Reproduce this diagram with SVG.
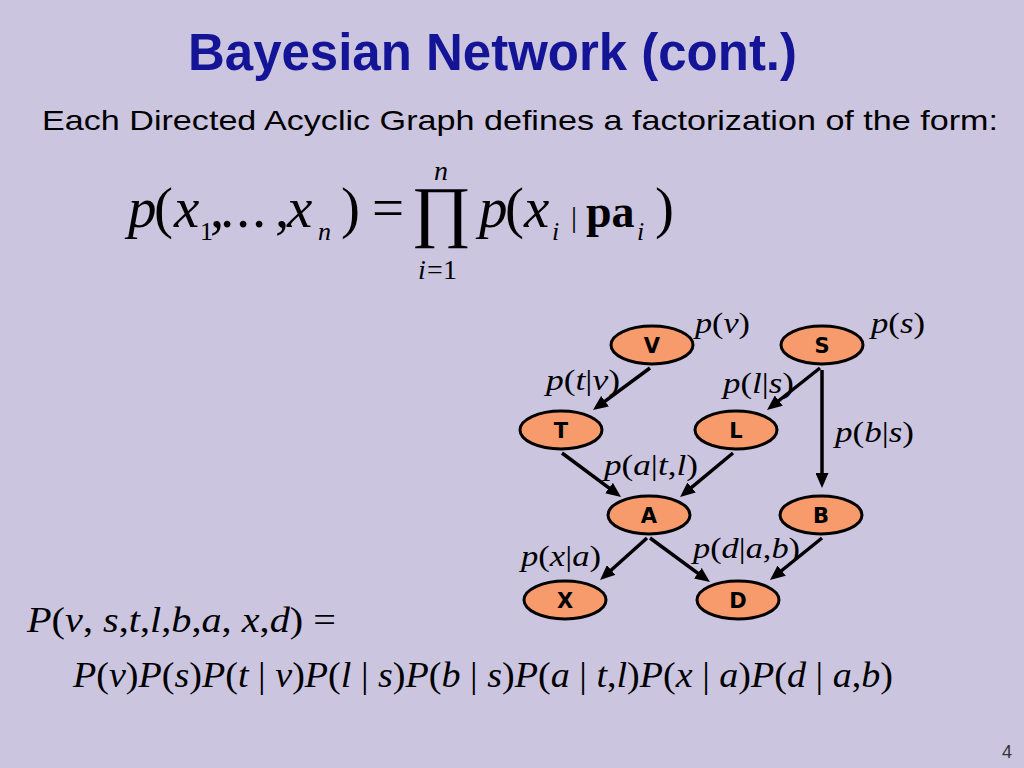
<svg xmlns="http://www.w3.org/2000/svg" width="1024" height="768" viewBox="0 0 1024 768">
<defs>
<style>
.bg{fill:#CCC5E0}
.title{font-family:"Liberation Sans",Arial,sans-serif;font-weight:bold;fill:#141496}
.sub{font-family:"Liberation Sans",Arial,sans-serif;fill:#000}
.m{font-family:"Liberation Serif","Times New Roman",serif;fill:#000}
.i{font-style:italic}
.b{font-weight:bold}
.node ellipse{fill:#F89B6C;stroke:#000;stroke-width:3}
.node text{font-family:"DejaVu Sans",sans-serif;font-weight:bold;font-size:21px;text-anchor:middle;fill:#000}
.edge{stroke:#000;stroke-width:3.5;fill:none;marker-end:url(#arr)}
.lbl{font-family:"Liberation Serif","Times New Roman",serif;font-size:29px;fill:#000}
</style>
<marker id="arr" markerUnits="userSpaceOnUse" markerWidth="15" markerHeight="13" viewBox="0 0 15 13" refX="7" refY="6.5" orient="auto">
<path d="M0,0 L15,6.5 L0,13 z" fill="#000"/>
</marker>
</defs>
<rect class="bg" x="0" y="0" width="1024" height="768"/>

<text class="title" x="188" y="70" font-size="51" textLength="609" lengthAdjust="spacingAndGlyphs">Bayesian Network (cont.)</text>
<text class="sub" x="42" y="130" font-size="28" textLength="956" lengthAdjust="spacingAndGlyphs">Each Directed Acyclic Graph defines a factorization of the form:</text>

<g id="formula-main" class="m">
<text font-size="57" y="227"><tspan class="i" x="128">p</tspan><tspan x="154">(</tspan><tspan class="i" x="174">x</tspan><tspan x="210">,</tspan><tspan x="220">.</tspan><tspan x="236">.</tspan><tspan x="252">.</tspan><tspan x="275">,</tspan><tspan class="i" x="287">x</tspan><tspan x="341">)</tspan><tspan x="372">=</tspan></text>
<text font-size="26" y="240"><tspan x="200">1</tspan><tspan class="i" x="318">n</tspan></text>
<text font-size="68" x="411" y="234" textLength="60" lengthAdjust="spacingAndGlyphs">∏</text>
<text font-size="28" class="i" x="434" y="180">n</text>
<text font-size="28" y="279"><tspan class="i" x="418">i</tspan><tspan x="427">=</tspan><tspan x="443">1</tspan></text>
<text font-size="57" y="227"><tspan class="i" x="479">p</tspan><tspan x="505">(</tspan><tspan class="i" x="524">x</tspan></text>
<text font-size="26" class="i" x="552" y="240">i</text>
<text font-size="30" x="571" y="227">|</text>
<text font-size="46" class="b" x="586" y="227">pa</text>
<text font-size="26" class="i" x="637" y="240">i</text>
<text font-size="57" x="655" y="227">)</text>
</g>

<g id="connectors">
<line class="edge" x1="650" y1="368" x2="599.4" y2="405.3"/>
<line class="edge" x1="820" y1="368" x2="773.3" y2="405"/>
<line class="edge" x1="822" y1="370" x2="822" y2="480"/>
<line class="edge" x1="562" y1="453" x2="614.6" y2="492.2"/>
<line class="edge" x1="733" y1="453" x2="686.2" y2="491.9"/>
<line class="edge" x1="647" y1="538" x2="606" y2="574.7"/>
<line class="edge" x1="650" y1="538" x2="703.5" y2="577.3"/>
<line class="edge" x1="822" y1="538" x2="776.2" y2="575"/>
</g>

<g id="node-V" class="node"><ellipse cx="652" cy="345" rx="41" ry="19"/><text x="652" y="353">V</text></g>
<g id="node-S" class="node"><ellipse cx="822" cy="345" rx="41" ry="19"/><text x="822" y="353">S</text></g>
<g id="node-T" class="node"><ellipse cx="561" cy="430" rx="41" ry="19"/><text x="561" y="438">T</text></g>
<g id="node-L" class="node"><ellipse cx="736" cy="430" rx="41" ry="19"/><text x="736" y="438">L</text></g>
<g id="node-A" class="node"><ellipse cx="649" cy="515" rx="41" ry="19"/><text x="649" y="523">A</text></g>
<g id="node-B" class="node"><ellipse cx="821" cy="515" rx="41" ry="19"/><text x="821" y="523">B</text></g>
<g id="node-X" class="node"><ellipse cx="565" cy="600" rx="41" ry="19"/><text x="565" y="608">X</text></g>
<g id="node-D" class="node"><ellipse cx="738" cy="600" rx="41" ry="19"/><text x="738" y="608">D</text></g>

<g id="labels" class="lbl">
<text x="695" y="333" textLength="55" lengthAdjust="spacingAndGlyphs"><tspan class="i">p</tspan>(<tspan class="i">v</tspan>)</text>
<text x="871" y="333" textLength="54" lengthAdjust="spacingAndGlyphs"><tspan class="i">p</tspan>(<tspan class="i">s</tspan>)</text>
<text x="546" y="390" textLength="74" lengthAdjust="spacingAndGlyphs"><tspan class="i">p</tspan>(<tspan class="i">t</tspan>|<tspan class="i">v</tspan>)</text>
<text x="723" y="393" textLength="71" lengthAdjust="spacingAndGlyphs"><tspan class="i">p</tspan>(<tspan class="i">l</tspan>|<tspan class="i">s</tspan>)</text>
<text x="835" y="442" textLength="79" lengthAdjust="spacingAndGlyphs"><tspan class="i">p</tspan>(<tspan class="i">b</tspan>|<tspan class="i">s</tspan>)</text>
<text x="604" y="475" textLength="94" lengthAdjust="spacingAndGlyphs"><tspan class="i">p</tspan>(<tspan class="i">a</tspan>|<tspan class="i">t</tspan>,<tspan class="i">l</tspan>)</text>
<text x="521" y="566" textLength="80" lengthAdjust="spacingAndGlyphs"><tspan class="i">p</tspan>(<tspan class="i">x</tspan>|<tspan class="i">a</tspan>)</text>
<text x="693" y="558" textLength="107" lengthAdjust="spacingAndGlyphs"><tspan class="i">p</tspan>(<tspan class="i">d</tspan>|<tspan class="i">a</tspan>,<tspan class="i">b</tspan>)</text>
</g>

<g id="formula-joint" class="m" font-size="36">
<text x="27" y="632" textLength="309" lengthAdjust="spacingAndGlyphs"><tspan class="i">P</tspan>(<tspan class="i">v</tspan>, <tspan class="i">s</tspan>,<tspan class="i">t</tspan>,<tspan class="i">l</tspan>,<tspan class="i">b</tspan>,<tspan class="i">a</tspan>, <tspan class="i">x</tspan>,<tspan class="i">d</tspan>) =</text>
<text x="73" y="687" textLength="820" lengthAdjust="spacingAndGlyphs"><tspan class="i">P</tspan>(<tspan class="i">v</tspan>)<tspan class="i">P</tspan>(<tspan class="i">s</tspan>)<tspan class="i">P</tspan>(<tspan class="i">t</tspan> | <tspan class="i">v</tspan>)<tspan class="i">P</tspan>(<tspan class="i">l</tspan> | <tspan class="i">s</tspan>)<tspan class="i">P</tspan>(<tspan class="i">b</tspan> | <tspan class="i">s</tspan>)<tspan class="i">P</tspan>(<tspan class="i">a</tspan> | <tspan class="i">t</tspan>,<tspan class="i">l</tspan>)<tspan class="i">P</tspan>(<tspan class="i">x</tspan> | <tspan class="i">a</tspan>)<tspan class="i">P</tspan>(<tspan class="i">d</tspan> | <tspan class="i">a</tspan>,<tspan class="i">b</tspan>)</text>
</g>

<text x="1002" y="758" font-family="Liberation Sans, Arial, sans-serif" font-size="18" fill="#333">4</text>
</svg>
